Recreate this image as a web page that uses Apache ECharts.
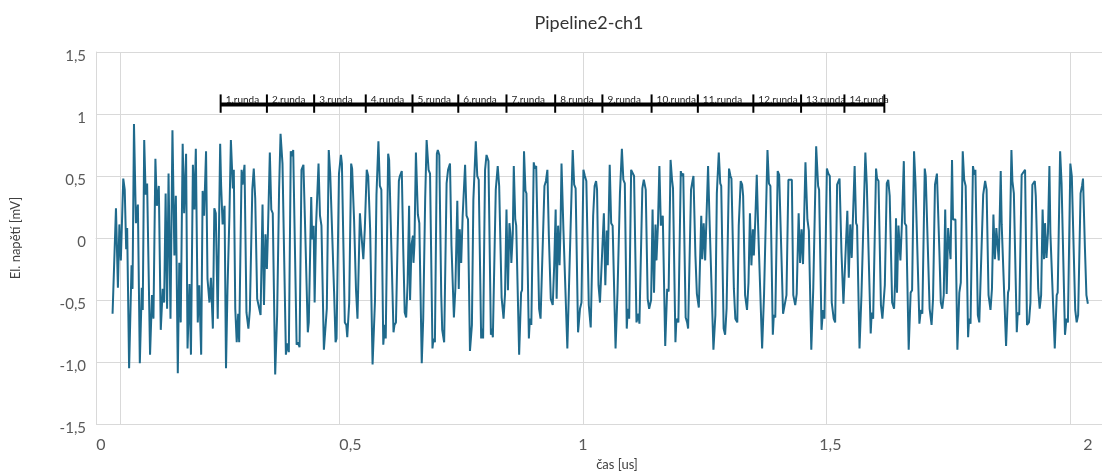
<!DOCTYPE html>
<html><head><meta charset="utf-8">
<script src="https://cdn.jsdelivr.net/npm/echarts/dist/echarts.min.js"></script>
<style>html,body{margin:0;padding:0;background:#fff}#c{width:1102px;height:476px}</style>
</head><body><div id="c"></div>
<script>
// ---- data (time in us, voltage in mV) ----
const tA=[0.034,0.041,0.045,0.048,0.051,0.056,0.059,0.062,0.064,0.068,0.073,0.075,0.078,0.082,0.086,0.090,0.094,0.096,0.099,0.102,0.105,0.111,0.115,0.118,0.122,0.125,0.129,0.133,0.137,0.140,0.143,0.146,0.149,0.153,0.157,0.161,0.164,0.168,0.171,0.174,0.178,0.181,0.185,0.188,0.192,0.195,0.199,0.202,0.205,0.209,0.212,0.216,0.219,0.222,0.226,0.229,0.233,0.236,0.240,0.243,0.246,0.250,0.255,0.257,0.260,0.264,0.267,0.270,0.274,0.277,0.281,0.283,0.286,0.289,0.292,0.294];
const vA=[-0.61,0.24,-0.40,0.11,-0.18,0.48,0.39,-0.09,0.08,-1.05,-0.22,-0.41,0.92,0.12,0.27,-1.01,-0.40,-0.58,0.79,0.35,0.44,-0.94,-0.46,-0.65,0.64,0.26,0.42,-0.74,-0.41,-0.52,0.36,-0.57,0.52,-0.65,0.87,-0.14,0.34,-1.09,-0.20,-0.68,0.76,0.20,0.68,-0.89,-0.37,-0.94,0.59,0.23,0.72,-0.68,-0.38,-0.94,0.38,0.18,0.70,-0.33,-0.52,-0.32,-0.73,0.24,0.20,-0.65,0.76,0.42,0.11,0.26,-1.05,-0.42,0.18,0.79,0.40,0.55,-0.57,-0.84,-0.61,-0.84];
const tB=[0.299,0.301,0.305,0.309,0.313,0.316,0.321,0.324,0.327,0.331,0.335,0.338,0.342,0.345,0.348,0.351,0.353,0.357,0.360,0.363,0.368,0.372,0.376,0.379,0.383,0.390,0.393,0.396,0.400,0.403,0.405,0.412,0.415,0.418,0.422,0.426,0.429,0.435,0.437,0.442,0.444,0.447,0.449,0.452,0.457,0.460,0.463,0.468,0.474,0.478,0.481,0.484,0.489,0.492,0.494,0.499,0.503,0.505,0.511,0.514,0.516,0.520,0.524,0.526,0.530,0.534,0.537,0.542,0.544,0.547,0.549,0.552,0.556,0.559,0.563,0.568,0.573,0.576,0.580,0.583];
const vB=[0.55,0.43,0.59,-0.60,-0.73,-0.58,0.39,0.56,0.32,-0.49,-0.48,-0.62,0.27,-0.54,0.03,-0.25,0.03,0.69,0.23,0.20,-1.10,-0.62,0.39,0.84,0.60,-0.94,-0.85,-0.92,0.70,0.66,0.71,-0.86,-0.84,-0.88,0.55,0.59,0.16,-0.76,-0.68,0.33,-0.01,0.10,-0.52,0.11,0.60,0.18,0.10,-0.90,-0.57,0.71,0.52,0.51,-0.44,-0.84,-0.81,0.52,0.67,0.60,-0.68,-0.70,-0.80,-0.52,0.60,0.56,0.15,-0.42,-0.65,0.20,0.08,0.07,-0.17,0.07,0.55,0.50,0.07,-1.02,-0.50,0.35,0.78,0.42];
const tC=[0.586,0.590,0.593,0.595,0.600,0.602,0.606,0.611,0.613,0.616,0.622,0.624,0.628,0.631,0.634,0.637,0.640,0.643,0.645,0.648,0.651,0.652,0.654,0.657,0.661,0.664,0.669,0.672,0.676,0.679,0.683,0.686,0.691,0.693,0.696,0.700,0.702,0.705,0.709,0.711,0.715,0.720,0.723,0.727,0.730,0.735,0.738,0.742,0.745,0.747,0.750,0.753,0.758,0.761,0.764,0.768,0.772,0.775,0.780,0.783,0.786,0.791,0.793,0.795,0.799,0.802,0.806,0.811,0.813,0.815,0.821,0.825,0.828,0.833,0.837,0.840,0.843,0.846,0.849,0.851,0.853,0.856,0.858,0.861,0.863];
const vC=[0.39,-0.86,-0.70,-0.81,0.68,0.63,0.64,-0.76,-0.70,-0.68,0.46,0.50,0.54,-0.09,-0.60,-0.64,-0.36,0.26,-0.50,-0.05,0.02,-0.20,-0.05,0.69,0.19,0.12,-1.01,-0.65,0.31,0.79,0.55,0.52,-0.89,-0.81,-0.84,0.68,0.71,0.67,-0.46,-0.74,-0.84,0.44,0.55,0.60,-0.06,-0.64,-0.41,0.30,-0.41,0.07,-0.20,0.18,0.59,0.18,0.15,-0.91,-0.70,0.31,0.78,0.50,0.47,-0.81,-0.73,-0.81,0.55,0.67,0.62,-0.78,-0.73,-0.80,0.39,0.58,0.42,-0.48,-0.65,-0.45,0.23,-0.42,0.12,0.04,-0.20,0.04,0.58,0.15,0.10];
const tD=[0.869,0.873,0.875,0.879,0.882,0.884,0.889,0.891,0.894,0.899,0.901,0.904,0.910,0.913,0.916,0.921,0.924,0.927,0.930,0.934,0.938,0.941,0.944,0.946,0.949,0.952,0.954,0.956,0.960,0.962,0.968,0.971,0.973,0.979,0.982,0.985,0.990,0.994,0.997,1.001,1.004,1.007,1.012,1.016,1.021,1.024,1.027,1.029,1.032,1.035,1.039,1.043,1.046,1.049,1.051,1.055,1.058,1.061,1.067,1.071,1.076,1.080,1.083,1.086,1.090,1.092,1.095,1.099,1.102,1.105,1.110,1.114,1.116,1.122,1.125,1.129,1.133,1.136,1.140,1.143,1.146,1.149,1.151,1.154,1.157,1.160,1.164];
const vD=[-0.94,-0.44,-0.42,0.70,0.38,0.36,-0.81,-0.65,-0.70,0.61,0.56,0.58,-0.57,-0.65,-0.65,0.42,0.46,0.55,0.02,-0.49,-0.54,-0.22,0.23,-0.49,0.10,-0.22,0.08,0.60,0.06,0.06,-0.89,-0.45,-0.45,0.71,0.43,0.40,-0.76,-0.57,-0.52,0.55,0.50,0.46,-0.54,-0.72,0.18,0.42,0.46,0.39,-0.38,-0.52,-0.53,0.20,-0.38,0.06,-0.22,0.59,0.12,0.10,-0.89,-0.44,0.36,0.72,0.47,0.44,-0.73,-0.57,-0.65,0.55,0.56,0.50,-0.68,-0.61,-0.69,0.40,0.47,0.39,-0.49,-0.57,-0.50,0.23,-0.44,0.11,-0.18,0.10,0.58,0.10,0.18];
const tE=[1.169,1.173,1.176,1.180,1.183,1.185,1.190,1.192,1.196,1.201,1.203,1.206,1.211,1.214,1.216,1.222,1.225,1.227,1.231,1.234,1.238,1.243,1.245,1.248,1.251,1.254,1.257,1.260,1.263,1.268,1.272,1.275,1.279,1.282,1.284,1.289,1.292,1.295,1.300,1.303,1.305,1.310,1.313,1.317,1.320,1.324,1.327,1.329,1.333,1.337,1.340,1.343,1.346,1.349,1.351,1.354,1.357,1.360,1.363,1.368,1.372,1.374,1.379,1.382,1.385,1.390,1.392,1.395,1.400,1.403,1.405,1.411,1.415,1.418,1.422,1.425,1.429,1.432,1.436,1.439,1.443];
const vE=[-0.87,-0.41,-0.43,0.63,0.47,0.40,-0.84,-0.65,-0.68,0.54,0.50,0.52,-0.64,-0.68,-0.73,0.39,0.46,0.50,-0.14,-0.45,-0.56,0.18,-0.17,0.12,-0.18,0.20,0.58,0.15,0.15,-0.90,-0.62,0.36,0.69,0.44,0.42,-0.73,-0.78,-0.57,0.56,0.50,0.48,-0.41,-0.65,-0.68,0.10,0.46,0.43,0.34,-0.46,-0.58,-0.36,0.20,-0.22,0.07,-0.14,0.15,0.51,0.07,0.08,-0.89,-0.45,-0.44,0.71,0.44,0.42,-0.78,-0.62,-0.64,0.54,0.51,0.50,-0.61,-0.62,-0.46,0.47,0.48,0.47,-0.46,-0.54,-0.45,0.20];
const tF=[1.446,1.449,1.452,1.454,1.457,1.461,1.464,1.469,1.473,1.475,1.479,1.483,1.485,1.490,1.493,1.496,1.501,1.504,1.507,1.511,1.515,1.518,1.522,1.524,1.527,1.531,1.535,1.538,1.543,1.546,1.549,1.552,1.554,1.558,1.561,1.563,1.568,1.572,1.574,1.580,1.583,1.586,1.591,1.593,1.596,1.602,1.604,1.607,1.612,1.615,1.620,1.624,1.627,1.630,1.635,1.639,1.641,1.643,1.645,1.648,1.652,1.655,1.659,1.661,1.664,1.669,1.673,1.676,1.680,1.683,1.686,1.691,1.694,1.697,1.702,1.704,1.708,1.712,1.716,1.719,1.723,1.727];
const vF=[-0.20,0.07,-0.21,0.11,0.61,0.15,0.06,-0.90,-0.41,-0.42,0.74,0.42,0.39,-0.74,-0.58,-0.65,0.56,0.52,0.50,-0.52,-0.65,-0.68,0.43,0.42,0.48,-0.12,-0.53,-0.54,0.22,-0.32,0.11,-0.16,0.10,0.58,0.12,0.10,-0.89,-0.46,-0.45,0.69,0.43,0.42,-0.77,-0.60,-0.65,0.56,0.48,0.46,-0.54,-0.65,-0.38,0.44,0.47,0.34,-0.52,-0.57,-0.36,0.16,-0.44,0.10,-0.18,0.11,0.62,0.12,0.10,-0.90,-0.44,-0.42,0.70,0.44,0.43,-0.69,-0.58,-0.61,0.56,0.50,0.51,-0.57,-0.70,-0.49,0.43,0.52];
const tG=[1.732,1.735,1.738,1.741,1.744,1.747,1.750,1.752,1.755,1.758,1.760,1.765,1.769,1.773,1.776,1.780,1.783,1.786,1.791,1.793,1.796,1.801,1.804,1.806,1.811,1.814,1.816,1.822,1.826,1.829,1.833,1.837,1.840,1.843,1.846,1.849,1.852,1.854,1.858,1.860,1.863,1.869,1.873,1.875,1.880,1.882,1.885,1.891,1.893,1.896,1.901,1.904,1.908,1.912,1.916,1.919,1.923,1.928,1.930,1.935,1.938,1.941,1.944,1.947,1.949,1.952,1.955,1.958,1.960,1.963,1.969,1.973,1.975,1.980,1.983,1.986,1.990,1.993,1.996,2.001,2.004,2.007,2.011,2.014,2.017,2.022,2.025,2.027,2.031,2.034,2.037];
const vG=[-0.10,-0.52,-0.57,-0.46,0.23,-0.45,0.08,0.08,-0.17,0.63,0.15,0.15,-0.90,-0.44,-0.36,0.70,0.47,0.42,-0.80,-0.65,-0.69,0.58,0.51,0.55,-0.62,-0.68,-0.68,0.35,0.46,0.39,-0.46,-0.58,-0.41,0.19,-0.17,0.08,0.07,-0.18,0.54,0.11,0.11,-0.87,-0.44,-0.41,0.71,0.46,0.36,-0.76,-0.60,-0.62,0.51,0.52,0.55,-0.70,-0.68,-0.52,0.43,0.46,0.34,-0.41,-0.57,-0.46,0.23,-0.17,0.12,-0.16,0.04,0.58,0.04,0.03,-0.89,-0.46,-0.44,0.70,0.44,0.43,-0.78,-0.65,-0.68,0.60,0.50,0.51,-0.58,-0.68,-0.62,0.36,0.42,0.48,-0.09,-0.46,-0.53];

// round ("runda") boundaries in us and their labels
const roundBounds=[0.256,0.351,0.448,0.554,0.650,0.744,0.843,0.943,1.040,1.141,1.236,1.350,1.448,1.537,1.619];
const roundLabels=['1.runda','2.runda','3.runda','4.runda','5.runda','6.runda','7.runda','8.runda','9.runda','10.runda','11.runda','12.runda','13.runda','14.runda'];
const roundBarY=1.076, roundTickTop=1.158, roundTickBottom=1.010, roundLabelY=1.118;
const extraGridX=0.049;

// tick labels
const xTickValues=[0,0.5,1,1.5,2];
const xTickLabels=['0','0,5','1','1,5','2'];
const yTickValues=[-1.5,-1,-0.5,0,0.5,1,1.5];
const yTickLabels=['-1,5','-1,0','-0,5','0','0,5','1','1,5'];

const timeUs=[].concat(tA,tB,tC,tD,tE,tF,tG);
const voltageMv=[].concat(vA,vB,vC,vD,vE,vF,vG);
const lineData=timeUs.map((t,i)=>[t,voltageMv[i]]);
const roundData=roundLabels.map((l,i)=>[roundBounds[i],roundBounds[i+1],i]);

function idxOf(vals,v){for(let i=0;i<vals.length;i++){if(Math.abs(vals[i]-v)<1e-6)return i;}return -1;}

const FONT='Lato, "Open Sans", sans-serif';
const xLabelStyle={fontFamily:FONT,fontSize:16,color:'#595959'};
// per-label horizontal nudges (styling only)
const xRich={
  x0:Object.assign({padding:[0,0,0,10]},xLabelStyle),
  x1:Object.assign({padding:[0,0,0,22]},xLabelStyle),
  x2:Object.assign({padding:[0,0,0,0]},xLabelStyle),
  x3:Object.assign({padding:[0,0,0,8]},xLabelStyle),
  x4:Object.assign({padding:[0,0,0,36]},xLabelStyle)
};
const yRich={y:{fontFamily:FONT,fontSize:15,color:'#595959',padding:[8,0,0,0]}};

const chart=echarts.init(document.getElementById('c'),null,{renderer:'canvas'});
chart.setOption({
  animation:false,
  backgroundColor:'#ffffff',
  title:{text:'Pipeline2-ch1',left:584,top:9,textAlign:'center',
    textStyle:{fontFamily:FONT,fontSize:18,fontWeight:'normal',color:'#333333'}},
  grid:{left:96,right:0,top:52,bottom:49,containLabel:false},
  xAxis:{type:'value',min:0,max:2.066,interval:0.5,
    name:'čas [us]',nameLocation:'middle',nameGap:33,
    nameTextStyle:{fontFamily:FONT,fontSize:13,color:'#404040',padding:[0,0,0,36]},
    axisLine:{show:true,lineStyle:{color:'#d9d9d9',width:1}},
    axisTick:{show:false},
    axisLabel:{fontFamily:FONT,fontSize:16,color:'#595959',margin:13,showMaxLabel:false,
      formatter:v=>{const i=idxOf(xTickValues,v);return i<0?'':'{x'+i+'|'+xTickLabels[i]+'}';},
      rich:xRich},
    splitLine:{show:true,lineStyle:{color:'#d9d9d9',width:1}}},
  yAxis:{type:'value',min:-1.5,max:1.5,interval:0.5,
    name:'El. napětí [mV]',nameLocation:'middle',nameGap:74,nameRotate:90,
    nameTextStyle:{fontFamily:FONT,fontSize:13,color:'#404040'},
    axisLine:{show:true,lineStyle:{color:'#d9d9d9',width:1}},
    axisTick:{show:false},
    axisLabel:{fontFamily:FONT,fontSize:15,color:'#595959',margin:10,
      formatter:v=>{const i=idxOf(yTickValues,v);return i<0?'':'{y|'+yTickLabels[i]+'}';},
      rich:yRich},
    splitLine:{show:true,lineStyle:{color:'#d9d9d9',width:1}}},
  series:[
    {type:'line',data:lineData,showSymbol:false,symbol:'none',silent:true,z:3,
      lineStyle:{color:'#1f6a8c',width:2},
      markLine:{silent:true,symbol:'none',label:{show:false},
        lineStyle:{color:'#d9d9d9',width:1,type:'solid'},
        data:[{xAxis:extraGridX}],z:1}},
    {type:'custom',data:roundData,silent:true,z:5,clip:false,
      renderItem:function(params,api){
        const s=api.value(0),e=api.value(1),i=api.value(2);
        const pS=api.coord([s,roundBarY]),pE=api.coord([e,roundBarY]);
        const top=api.coord([s,roundTickTop])[1],bot=api.coord([s,roundTickBottom])[1];
        const ly=api.coord([s,roundLabelY])[1];
        const children=[
          {type:'line',shape:{x1:pS[0],y1:pS[1],x2:pE[0],y2:pE[1]},style:{stroke:'#000',lineWidth:4}},
          {type:'line',shape:{x1:pS[0],y1:top,x2:pS[0],y2:bot},style:{stroke:'#000',lineWidth:2}},
          {type:'text',x:pS[0]+5,y:ly,style:{text:roundLabels[i],fill:'#222',font:'10px '+FONT,align:'left',verticalAlign:'middle'}}
        ];
        if(i===roundLabels.length-1){
          children.push({type:'line',shape:{x1:pE[0],y1:top,x2:pE[0],y2:bot},style:{stroke:'#000',lineWidth:2}});
        }
        return {type:'group',children:children};
      }}
  ]
});
</script>
</body></html>
